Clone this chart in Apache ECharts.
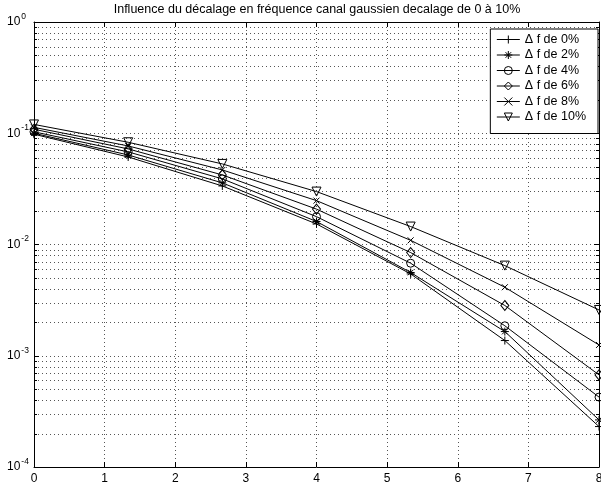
<!DOCTYPE html>
<html><head><meta charset="utf-8">
<script src="https://cdn.jsdelivr.net/npm/echarts@6/dist/echarts.min.js"></script>
<style>html,body{margin:0;padding:0;background:#fff}#c{width:601px;height:488px}</style>
</head><body><div id="c"></div>
<script>
// ---- data ----
const titleText = 'Influence du décalage en fréquence canal gaussien decalage de 0 à 10%';
const xValues = [0, 1.3333, 2.6667, 4, 5.3333, 6.6667, 8];
const seriesNames = ['Δ f de 0%', 'Δ f de 2%', 'Δ f de 4%', 'Δ f de 6%', 'Δ f de 8%', 'Δ f de 10%'];
const df0  = [0.098, 0.0612, 0.0336, 0.0153, 0.00544, 0.00137, 0.000231];
const df2  = [0.100, 0.0638, 0.0358, 0.0161, 0.00560, 0.00165, 0.000265];
const df4  = [0.103, 0.0680, 0.0389, 0.0178, 0.00679, 0.00186, 0.000425];
const df6  = [0.1086, 0.0723, 0.0422, 0.0208, 0.00846, 0.00283, 0.000673];
const df8  = [0.113, 0.0769, 0.0468, 0.0248, 0.0109, 0.00413, 0.00125];
const df10 = [0.120, 0.0830, 0.0530, 0.0299, 0.0145, 0.00646, 0.00258];
const xMin = 0, xMax = 8, xInterval = 1;
const yMin = 1e-4, yMax = 1;
const minorMultipliers = [2, 3, 4, 5, 6, 7, 8, 9];
const decadeExponents = [-4, -3, -2, -1];

// ---- styling ----
const FONT = 'Liberation Sans, Arial, Helvetica, sans-serif';
const allData = [df0, df2, df4, df6, df8, df10];
const symbols = [
  'path://M5,0L5,10M0,5L10,5',
  'path://M5,0L5,10M0,5L10,5M1.5,1.5L8.5,8.5M8.5,1.5L1.5,8.5',
  'circle',
  'diamond',
  'path://M0,0L10,10M10,0L0,10',
  'path://M0,0L10,0L5,10Z'
];
const symbolSizes = [8, 8, 8, [8, 10], 6, 9];

const minorValues = [];
decadeExponents.forEach(e => minorMultipliers.forEach(m => minorValues.push([xMin, m * Math.pow(10, e)])));

const lineSeries = seriesNames.map((name, i) => ({
  name: name,
  type: 'line',
  data: xValues.map((x, j) => [x, allData[i][j]]),
  symbol: symbols[i],
  symbolSize: symbolSizes[i],
  showSymbol: true,
  lineStyle: { color: '#000', width: 1 },
  itemStyle: { color: 'rgba(0,0,0,0)', borderColor: '#000', borderWidth: 1 },
  emphasis: { disabled: true },
  animation: false,
  z: 3
}));

const chart = echarts.init(document.getElementById('c'), null, { renderer: 'canvas' });
const option = {
  animation: false,
  backgroundColor: '#fff',
  textStyle: { fontFamily: FONT },
  graphic: [{
    type: 'text', x: 317, y: 10,
    style: { text: titleText, font: '12.5px ' + FONT, fill: '#000', textAlign: 'center', textVerticalAlign: 'middle' }
  }],
  grid: { left: 34, right: 2, top: 22, bottom: 21, containLabel: false, outerBoundsMode: 'none' },
  legend: {
    data: seriesNames,
    orient: 'vertical',
    right: 3, top: 29,
    itemWidth: 23, itemHeight: 10, itemGap: 2.5,
    padding: [4, 12, 10, 6],
    backgroundColor: '#fff',
    borderColor: '#000', borderWidth: 1,
    lineStyle: { width: 1, color: '#000' },
    itemStyle: { borderWidth: 1, borderColor: '#000', color: 'rgba(0,0,0,0)' },
    textStyle: { fontSize: 12.5, lineHeight: 12, color: '#000', fontFamily: FONT },
    selectedMode: false
  },
  xAxis: [{
    type: 'value', min: xMin, max: xMax, interval: xInterval, position: 'bottom',
    axisLine: { show: true, onZero: false, lineStyle: { color: '#000', width: 1 } },
    axisTick: { show: true, inside: true, length: 5, lineStyle: { color: '#000' } },
    axisLabel: { color: '#000', fontSize: 12, margin: 6, fontFamily: FONT, showMaxLabel: true, showMinLabel: true },
    splitLine: { show: true, lineStyle: { color: '#555', type: [1, 3], width: 1 } }
  }, {
    type: 'value', min: xMin, max: xMax, interval: xInterval, position: 'top',
    axisLine: { show: true, onZero: false, lineStyle: { color: '#000', width: 1 } },
    axisTick: { show: true, inside: true, length: 5, lineStyle: { color: '#000' } },
    axisLabel: { show: false },
    splitLine: { show: false }
  }],
  yAxis: [{
    type: 'log', logBase: 10, min: yMin, max: yMax, position: 'left',
    axisLine: { show: true, onZero: false, lineStyle: { color: '#000', width: 1 } },
    axisTick: { show: true, inside: true, length: 5, lineStyle: { color: '#000' } },
    axisLabel: {
      color: '#000', align: 'left', margin: 27,
      formatter: v => '{b|10}{s|' + Math.round(Math.log10(v)) + '}',
      rich: {
        b: { fontSize: 12, fontFamily: FONT, color: '#000', lineHeight: 12, padding: [4, 0, 4, 0] },
        s: { fontSize: 8.5, fontFamily: FONT, color: '#000', lineHeight: 9, padding: [0, 0, 11, 1] }
      }
    },
    splitLine: { show: true, lineStyle: { color: '#555', type: [1, 3], width: 1 } }
  }, {
    type: 'log', logBase: 10, min: yMin, max: yMax, position: 'right',
    axisLine: { show: true, onZero: false, lineStyle: { color: '#000', width: 1 } },
    axisTick: { show: true, inside: true, length: 5, lineStyle: { color: '#000' } },
    axisLabel: { show: false },
    splitLine: { show: false }
  }],
  series: [{
    type: 'custom',
    name: 'minorgrid',
    coordinateSystem: 'cartesian2d',
    xAxisIndex: 0, yAxisIndex: 0,
    silent: true,
    z: 1,
    data: minorValues,
    renderItem: function (params, api) {
      const v = api.value(1);
      const p0 = api.coord([xMin, v]);
      const p1 = api.coord([xMax, v]);
      const y = Math.round(p0[1]) + 0.5;
      return {
        type: 'group', children: [
          { type: 'line', shape: { x1: p0[0], y1: y, x2: p1[0], y2: y }, style: { stroke: '#555', lineWidth: 1, lineDash: [1, 3] } },
          { type: 'line', shape: { x1: p0[0], y1: y, x2: p0[0] + 3, y2: y }, style: { stroke: '#000', lineWidth: 1 } },
          { type: 'line', shape: { x1: p1[0], y1: y, x2: p1[0] - 3, y2: y }, style: { stroke: '#000', lineWidth: 1 } }
        ]
      };
    }
  }].concat(lineSeries)
};
chart.setOption(option);
</script>
</body></html>
